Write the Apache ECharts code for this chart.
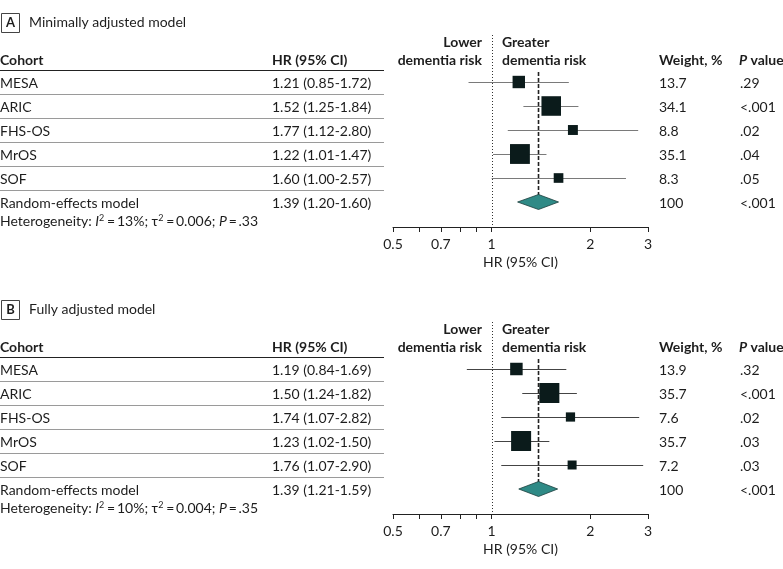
<!DOCTYPE html>
<html>
<head>
<meta charset="utf-8">
<script src="https://cdn.jsdelivr.net/npm/echarts@6/dist/echarts.min.js"></script>
<style>
  html, body { margin: 0; padding: 0; background: #fff; }
  #chart { width: 783px; height: 569px; }
</style>
</head>
<body>
<div id="chart"></div>
<script>
// data
const cohorts = ["MESA", "ARIC", "FHS-OS", "MrOS", "SOF"];

const hrA = [1.21, 1.52, 1.77, 1.22, 1.60];
const loA = [0.85, 1.25, 1.12, 1.01, 1.00];
const hiA = [1.72, 1.84, 2.80, 1.47, 2.57];
const weightA = [13.7, 34.1, 8.8, 35.1, 8.3];
const pA = [".29", "<.001", ".02", ".04", ".05"];
const pooledA = [1.39, 1.20, 1.60];
const pooledPA = "<.001";
const hetA = ["13%", "0.006", ".33"];

const hrB = [1.19, 1.50, 1.74, 1.23, 1.76];
const loB = [0.84, 1.24, 1.07, 1.02, 1.07];
const hiB = [1.69, 1.82, 2.82, 1.50, 2.90];
const weightB = [13.9, 35.7, 7.6, 35.7, 7.2];
const pB = [".32", "<.001", ".02", ".03", ".03"];
const pooledB = [1.39, 1.21, 1.59];
const pooledPB = "<.001";
const hetB = ["10%", "0.004", ".35"];

const tickValues = [0.5, 0.6, 0.7, 0.8, 0.9, 1, 2, 3];
const labelValues = [0.5, 0.7, 1, 2, 3];

const FONT = "Lato";
const INK = "#1d1d1d";
const ROW = 24;
const panels = [
  { letter: "A", title: "Minimally adjusted model", top: 70,
    hr: hrA, lo: loA, hi: hiA, w: weightA, p: pA, pooled: pooledA, pooledP: pooledPA, het: hetA },
  { letter: "B", title: "Fully adjusted model", top: 357,
    hr: hrB, lo: loB, hi: hiB, w: weightB, p: pB, pooled: pooledB, pooledP: pooledPB, het: hetB }
];

const chart = echarts.init(document.getElementById("chart"));

const fmt = (v) => v.toFixed(2);
const rowY = (top, i) => top + ROW / 2 + ROW * i;

function txt(x, y, text, opts) {
  return {
    type: "text", x: x, y: y, silent: true,
    style: Object.assign({
      text: text, fill: INK, fontFamily: FONT, fontSize: 14,
      align: "left", verticalAlign: "middle"
    }, opts || {})
  };
}

const grids = [], xAxes = [], yAxes = [], series = [], graphics = [];

panels.forEach((pn, k) => {
  grids.push({ left: 393, width: 255, top: pn.top, height: ROW * 6 });
  xAxes.push({
    type: "log", gridIndex: k, min: 0.5, max: 3, logBase: 10, offset: 13,
    name: "HR (95% CI)", nameLocation: "middle", nameGap: 28,
    nameTextStyle: { fontFamily: FONT, fontSize: 14, color: INK },
    axisLine: { onZero: false, lineStyle: { color: "#222", width: 1 } },
    axisTick: { show: true, length: 5, customValues: tickValues, lineStyle: { color: "#222" } },
    axisLabel: { customValues: labelValues, margin: 10, fontFamily: FONT, fontSize: 14, color: INK,
      formatter: (v) => String(+(+v).toFixed(2)) },
    splitLine: { show: false }, minorTick: { show: false }
  });
  yAxes.push({ type: "value", gridIndex: k, min: -0.5, max: 5.5, inverse: true, show: false });

  // reference line at HR = 1 (dotted)
  series.push({
    type: "custom", xAxisIndex: k, yAxisIndex: k, silent: true, clip: false, z: 1,
    data: [[1]],
    renderItem: (params, api) => {
      const cs = params.coordSys;
      const x = Math.round(api.coord([api.value(0), 0])[0]) + 0.5;
      return { type: "line", shape: { x1: x, y1: cs.y - 35, x2: x, y2: cs.y + cs.height + 13 },
        style: { stroke: "#333", lineWidth: 1, lineDash: [1, 2] } };
    }
  });
  // pooled estimate line (dashed)
  series.push({
    type: "custom", xAxisIndex: k, yAxisIndex: k, silent: true, clip: false, z: 1,
    data: [[pn.pooled[0], 5]],
    renderItem: (params, api) => {
      const cs = params.coordSys;
      const p = api.coord([api.value(0), api.value(1)]);
      return { type: "line", shape: { x1: p[0], y1: cs.y + 2, x2: p[0], y2: p[1] - 7 },
        style: { stroke: "#222", lineWidth: 1.6, lineDash: [4, 2] } };
    }
  });
  // confidence intervals
  series.push({
    type: "custom", xAxisIndex: k, yAxisIndex: k, silent: true, z: 2,
    encode: { x: [1, 2], y: 0 },
    data: cohorts.map((c, i) => [i, pn.lo[i], pn.hi[i]]),
    renderItem: (params, api) => {
      const a = api.coord([api.value(1), api.value(0)]);
      const b = api.coord([api.value(2), api.value(0)]);
      const y = Math.round(a[1]) + 0.5;
      return { type: "line", shape: { x1: a[0], y1: y, x2: b[0], y2: y },
        style: { stroke: k === 0 ? "#7a7a7a" : "#444", lineWidth: 1 } };
    }
  });
  // study estimates, square area by weight
  series.push({
    type: "scatter", xAxisIndex: k, yAxisIndex: k, silent: true, z: 3,
    symbol: "rect",
    symbolSize: (v) => 3.35 * Math.sqrt(v[2]),
    itemStyle: { color: "#0b1b1b", opacity: 1 },
    data: cohorts.map((c, i) => [pn.hr[i], i, pn.w[i]])
  });
  // pooled diamond
  series.push({
    type: "custom", xAxisIndex: k, yAxisIndex: k, silent: true, z: 4,
    encode: { x: [0, 1, 2], y: 3 },
    data: [[pn.pooled[0], pn.pooled[1], pn.pooled[2], 5]],
    renderItem: (params, api) => {
      const c = api.coord([api.value(0), api.value(3)]);
      const l = api.coord([api.value(1), api.value(3)]);
      const r = api.coord([api.value(2), api.value(3)]);
      return { type: "polygon",
        shape: { points: [[l[0], c[1]], [c[0], c[1] - 7.5], [r[0], c[1]], [c[0], c[1] + 7.5]] },
        style: { fill: "#2f8a86", stroke: "#1b3d3c", lineWidth: 0.8 } };
    }
  });

  // panel title
  const t = pn.top;
  graphics.push({ type: "rect", shape: { x: 1.5, y: t - 56.5, width: 18, height: 19 },
    style: { fill: "none", stroke: "#444", lineWidth: 1 }, silent: true });
  graphics.push(txt(10.5, t - 47, pn.letter, { align: "center", fontWeight: "bold", fontSize: 13 }));
  graphics.push(txt(29, t - 48, pn.title));

  // headers
  graphics.push(txt(0, t - 10, "Cohort", { fontWeight: "bold" }));
  graphics.push(txt(272, t - 10, "HR (95% CI)", { fontWeight: "bold" }));
  graphics.push(txt(482, t - 28, "Lower", { align: "right", fontWeight: "bold" }));
  graphics.push(txt(482, t - 10, "dementia risk", { align: "right", fontWeight: "bold" }));
  graphics.push(txt(502, t - 28, "Greater", { fontWeight: "bold" }));
  graphics.push(txt(502, t - 10, "dementia risk", { fontWeight: "bold" }));
  graphics.push(txt(659, t - 10, "Weight, %", { fontWeight: "bold" }));
  graphics.push(txt(739, t - 10, "{i|P} value", { fontWeight: "bold",
    rich: { i: { fontStyle: "italic", fontWeight: "bold", fontFamily: FONT, fontSize: 14, fill: INK } } }));

  // table rules
  graphics.push({ type: "line", silent: true, shape: { x1: 0, y1: t + 0.5, x2: 384, y2: t + 0.5 },
    style: { stroke: "#222", lineWidth: 1.2 } });
  for (let i = 1; i <= 5; i++) {
    const y = Math.round(t + ROW * i) + 0.5;
    graphics.push({ type: "line", silent: true, shape: { x1: 0, y1: y, x2: 384, y2: y },
      style: { stroke: "#9a9a9a", lineWidth: 1 } });
  }

  // rows
  cohorts.forEach((c, i) => {
    const y = rowY(t, i) + 1;
    graphics.push(txt(0, y, c));
    graphics.push(txt(272, y, fmt(pn.hr[i]) + " (" + fmt(pn.lo[i]) + "-" + fmt(pn.hi[i]) + ")"));
    graphics.push(txt(659, y, pn.w[i].toFixed(1)));
    graphics.push(txt(740, y, pn.p[i]));
  });
  const yp = rowY(t, 5) + 1;
  graphics.push(txt(0, yp, "Random-effects model"));
  graphics.push(txt(272, yp, fmt(pn.pooled[0]) + " (" + fmt(pn.pooled[1]) + "-" + fmt(pn.pooled[2]) + ")"));
  graphics.push(txt(659, yp, "100"));
  graphics.push(txt(740, yp, pn.pooledP));
  graphics.push(txt(0, yp + 18,
    "Heterogeneity: {i|I}{s|2}\u2009=\u2009" + pn.het[0] + "; \u03c4{s|2}\u2009=\u2009" + pn.het[1] +
    "; {i|P}\u2009=\u2009" + pn.het[2], {
      rich: {
        i: { fontStyle: "italic", fontFamily: FONT, fontSize: 14, fill: INK },
        s: { fontFamily: FONT, fontSize: 9, fill: INK, verticalAlign: "top", padding: [0, 1, 6, 0] }
      }
    }));
});

chart.setOption({
  animation: false,
  backgroundColor: "#fff",
  grid: grids,
  xAxis: xAxes,
  yAxis: yAxes,
  series: series,
  graphic: graphics
});
</script>
</body>
</html>
